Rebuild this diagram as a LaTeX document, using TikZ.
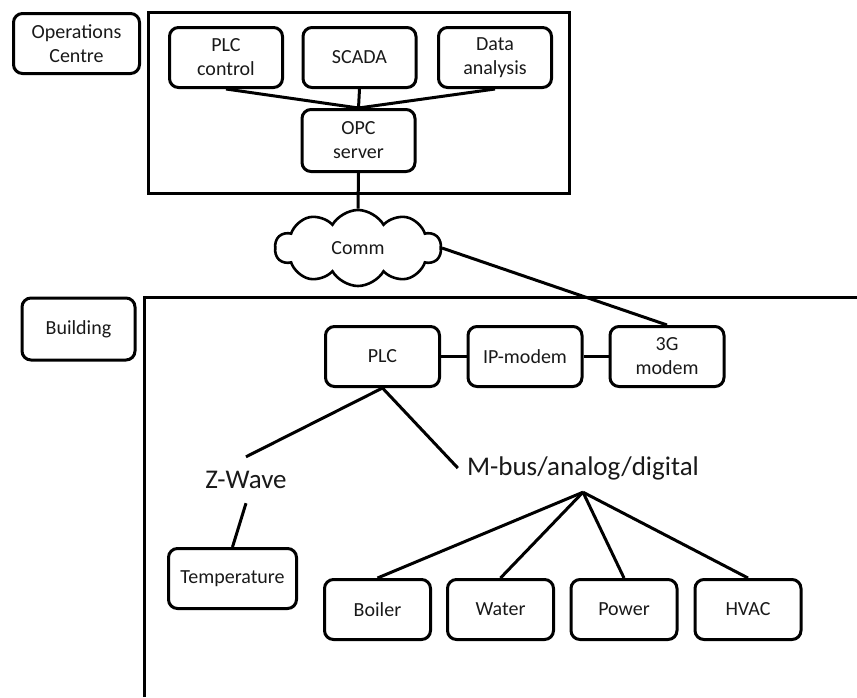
\documentclass[tikz,border=0pt]{standalone}
\usepackage{fontspec}
\setmainfont{Carlito}
\usetikzlibrary{shapes.symbols}
\tikzset{
  box/.style={draw, line width=3pt, rounded corners=9pt, align=center,
    font=\fontsize{20}{24}\selectfont, text=black!90, inner sep=2pt},
  bigtext/.style={font=\fontsize{27}{30}\selectfont, text=black!90, inner sep=0pt, minimum width=10pt},
  conn/.style={line width=3pt},
  frame/.style={line width=3pt}
}
\begin{document}
\begin{tikzpicture}[x=1pt,y=-1pt]
\useasboundingbox (0,0) rectangle (857,697);
% frames
\draw[frame] (148,12) rectangle (569,193);
\coordinate (bl) at (144,697);
\coordinate (tl) at (144,297);
\coordinate (tr) at (857,297);
\draw[frame] (bl) -- (tl) -- (tr);
% labels
\node[box, minimum width=126pt, minimum height=60pt] (ops) at (76.5,43.5) {Operations\\Centre};
\node[box, minimum width=113pt, minimum height=62pt] (bld) at (78.5,329) {Building};
% operations centre
\node[box, minimum width=113pt, minimum height=60pt] (plcc) at (226,57.5) {PLC\\control};
\node[box, minimum width=113pt, minimum height=60pt] (scada) at (359.5,57.5) {SCADA};
\node[box, minimum width=113pt, minimum height=60pt] (data) at (495,57.5) {Data\\analysis};
\node[box, minimum width=113pt, minimum height=62pt] (opc) at (358.5,140.5) {OPC\\server};
\draw[conn] (plcc.south) -- (opc.north);
\draw[conn] (scada.south) -- (opc.north);
\draw[conn] (data.south) -- (opc.north);
% cloud
\node[cloud, draw, line width=2.6pt, cloud puffs=10, cloud puff arc=120, aspect=2.1,
  minimum width=166pt, minimum height=76pt, inner sep=0pt,
  font=\fontsize{20}{24}\selectfont, text=black!90] (comm) at (358,248) {Comm};
\draw[conn] (opc.south) -- (comm.north);
% building
\node[box, minimum width=114pt, minimum height=60pt] (plc) at (382.5,356.5) {PLC};
\node[box, minimum width=114pt, minimum height=60pt] (ipm) at (525,356.5) {IP-modem};
\node[box, minimum width=114pt, minimum height=60pt] (g3) at (667,356.5) {3G\\modem};
\draw[conn] (comm.east) -- (g3.north);
\draw[conn] (plc) -- (ipm);
\draw[conn] (ipm) -- (g3);
\node[bigtext, minimum height=46pt] (zw) at (246,480) {Z-Wave};
\node[bigtext, minimum height=48pt, inner xsep=9pt] (mbus) at (583,468) {M-bus/analog/digital};
\draw[conn] (plc.south) -- (zw.north);
\draw[conn] (plc.south) -- (mbus.west);
\node[box, minimum width=128pt, minimum height=60pt] (temp) at (232.5,578.5) {Temperature};
\draw[conn] (zw.south) -- (temp.north);
\node[box, minimum width=106pt, minimum height=60pt] (boiler) at (377.5,609.5) {Boiler};
\node[box, minimum width=106pt, minimum height=60pt] (water) at (500.5,609.5) {Water};
\node[box, minimum width=106pt, minimum height=60pt] (power) at (624,609.5) {Power};
\node[box, minimum width=106pt, minimum height=60pt] (hvac) at (748,609.5) {HVAC};
\foreach \n in {boiler,water,power,hvac}
  \draw[conn] (mbus.south) -- (\n.north);
\end{tikzpicture}
\end{document}
